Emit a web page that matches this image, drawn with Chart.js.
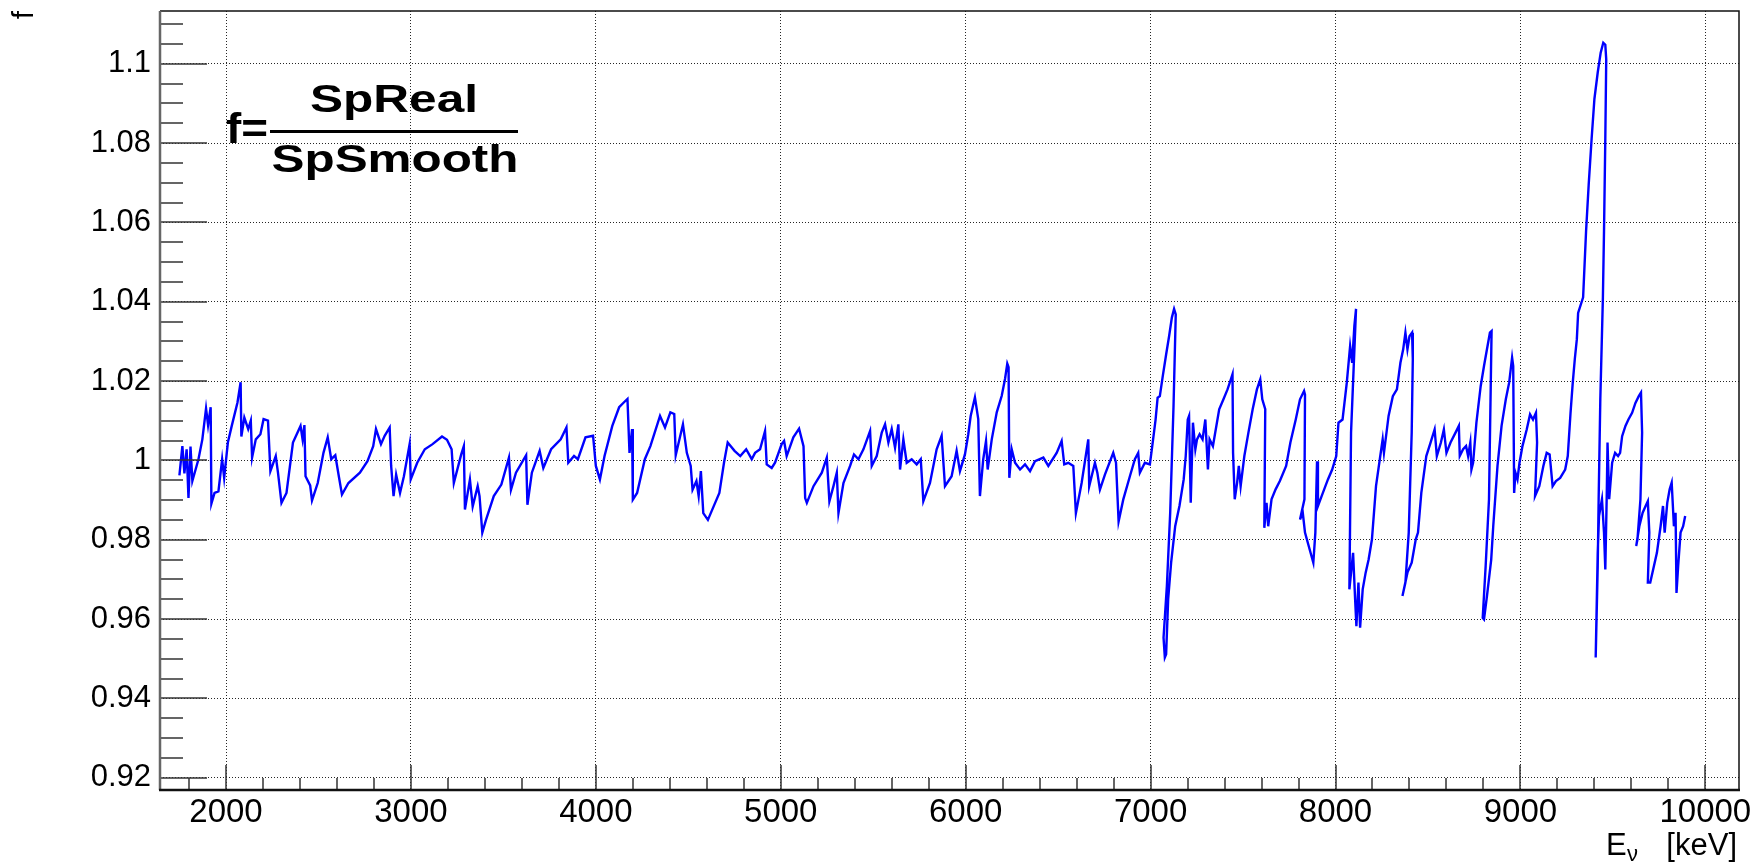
<!DOCTYPE html>
<html>
<head>
<meta charset="utf-8">
<title>f = SpReal / SpSmooth</title>
<script src="https://cdn.jsdelivr.net/npm/chart.js@4.4.0/dist/chart.umd.min.js"></script>
<style>
  html, body { margin: 0; padding: 0; background: #fff; }
  #wrap { width: 1756px; height: 862px; }
</style>
</head>
<body>
<div id="wrap"><canvas id="ratioChart" width="1756" height="862"></canvas></div>
<script>
// neutrino energy (keV), in drawing order (the curve folds back on itself at the big drops)
const energyKeV = [
  1748, 1764, 1775, 1787, 1797, 1808, 1818, 1851, 1872, 1892, 1903, 1917, 1921, 1938, 1959, 1979, 1990,
  2010, 2031, 2062, 2079, 2083, 2099, 2120, 2134, 2141, 2161, 2186, 2203, 2227, 2240, 2269, 2281, 2300,
  2327, 2362, 2403, 2414, 2424, 2430, 2455, 2465, 2496, 2527, 2550, 2569, 2591, 2610, 2627, 2662, 2724,
  2765, 2796, 2811, 2838, 2858, 2885, 2893, 2906, 2920, 2941, 2962, 2993, 2999, 3034, 3075, 3117, 3168,
  3195, 3220, 3232, 3272, 3286, 3292, 3319, 3334, 3361, 3371, 3386, 3406, 3448, 3489, 3530, 3541, 3568,
  3623, 3630, 3654, 3696, 3716, 3758, 3810, 3841, 3851, 3882, 3903, 3944, 3985, 4000, 4022, 4047, 4089,
  4126, 4151, 4171, 4182, 4196, 4200, 4223, 4265, 4295, 4347, 4374, 4403, 4424, 4432, 4471, 4492, 4513,
  4523, 4544, 4556, 4568, 4581, 4606, 4637, 4668, 4693, 4713, 4750, 4781, 4813,
  4843, 4861, 4888, 4915, 4924, 4951, 4969, 5005, 5018, 5032, 5068, 5099, 5123, 5132, 5141, 5177, 5222,
  5249, 5263, 5285, 5303, 5312, 5339, 5375, 5396, 5420, 5447, 5483, 5492, 5519, 5546, 5564, 5582, 5600,
  5618, 5636, 5645, 5663, 5681, 5708, 5735, 5757, 5771, 5807, 5843, 5870, 5888, 5924, 5951, 5969, 5996,
  6014, 6027, 6050, 6068, 6077, 6095, 6110, 6119, 6141, 6168, 6195, 6213, 6225, 6232, 6236, 6249, 6267,
  6294, 6321, 6348, 6375, 6420, 6447, 6492, 6519, 6533, 6555, 6582, 6596, 6627, 6663, 6668, 6699, 6712,
  6726, 6753, 6798, 6813, 6827, 6852, 6888, 6915, 6933, 6942, 6969, 6996,
  7009, 7027, 7038, 7050, 7066, 7084, 7100, 7115, 7127, 7136, 7124, 7106, 7088, 7070, 7077, 7084, 7095,
  7111, 7133, 7156, 7179, 7190, 7201, 7208, 7217, 7229, 7242, 7251, 7265, 7281, 7296, 7310, 7319, 7337,
  7348, 7371, 7394, 7416, 7434, 7443, 7446, 7455, 7468, 7477, 7487, 7507, 7529, 7552, 7575, 7593, 7604,
  7620, 7615, 7627, 7636, 7654, 7676, 7699, 7733, 7756, 7785, 7808, 7830, 7835, 7832, 7808, 7823, 7835,
  7880, 7891, 7900, 7905, 7925, 7959, 7982, 8004, 8016, 8038, 8061, 8079, 8090, 8102, 8111, 8084, 8075,
  8095, 8106, 8113, 8124, 8133, 8147, 8163, 8179, 8197, 8219, 8242, 8255, 8262, 8287, 8310, 8332, 8351,
  8366, 8378, 8389, 8400, 8414, 8418, 8412, 8396, 8378, 8362, 8389, 8412, 8434, 8446, 8464, 8491, 8514,
  8536, 8548, 8570, 8586, 8600, 8622, 8649, 8667, 8672, 8690, 8706, 8717, 8729, 8735, 8744, 8762, 8785,
  8803, 8819, 8835, 8844, 8830, 8812, 8796, 8803, 8819, 8842, 8853, 8876, 8898, 8921, 8939, 8955, 8961,
  8966, 8973, 8984, 8995, 9011, 9034, 9052, 9068, 9084, 9090, 9079, 9102, 9124, 9142, 9158, 9174, 9192,
  9215, 9242, 9256, 9271, 9283, 9294, 9305, 9312, 9339, 9355, 9369, 9385, 9400, 9418, 9434, 9448, 9459,
  9464, 9459, 9452, 9446, 9432, 9423, 9418, 9412, 9407, 9418, 9425, 9441, 9452, 9459, 9467, 9471, 9480,
  9496, 9512, 9528, 9539, 9550, 9568, 9584, 9604, 9622, 9640, 9652, 9658, 9649, 9633, 9626, 9643, 9661,
  9677, 9689, 9697, 9689, 9702, 9722, 9738, 9758, 9771, 9780, 9794, 9807, 9818, 9830, 9839, 9844, 9853,
  9866, 9880, 9891
];

// f = SpReal / SpSmooth, one value per energy above
const ratioF = [
  0.9962, 1.0036, 0.9967, 1.0028, 0.9905, 1.0035, 0.9948, 1.0003, 1.0053, 1.0131, 1.0089, 1.0134, 0.9891, 0.9918, 0.9922, 1.0003, 0.9956,
  1.0045, 1.0087, 1.0146, 1.0197, 1.0060, 1.0108, 1.0079, 1.0100, 1.0007, 1.0053, 1.0066, 1.0104, 1.0100, 0.9973, 1.0011, 0.9969, 0.9893,
  0.9918, 1.0045, 1.0087, 1.0053, 1.0089, 0.9960, 0.9937, 0.9899, 0.9943, 1.0019, 1.0058, 1.0003, 1.0013, 0.9960, 0.9914, 0.9943, 0.9969,
  0.9998, 1.0036, 1.0079, 1.0041, 1.0062, 1.0083, 0.9986, 0.9910, 0.9964, 0.9918, 0.9960, 1.0041, 0.9952, 0.9994, 1.0028, 1.0041, 1.0060,
  1.0052, 1.0028, 0.9943, 1.0015, 1.0036, 0.9876, 0.9952, 0.9884, 0.9935, 0.9910, 0.9818, 0.9850, 0.9910, 0.9939, 1.0007, 0.9926, 0.9969,
  1.0013, 0.9888, 0.9969, 1.0024, 0.9981, 1.0028, 1.0053, 1.0083, 0.9994, 1.0011, 1.0003, 1.0058, 1.0062, 0.9986, 0.9952, 1.0011, 1.0087,
  1.0134, 1.0146, 1.0155, 1.0019, 1.0079, 0.9901, 0.9918, 1.0003, 1.0036, 1.0112, 1.0083, 1.0121, 1.0117, 1.0013, 1.0091, 1.0019, 0.9986,
  0.9926, 0.9948, 0.9910, 0.9973, 0.9867, 0.9850, 0.9884, 0.9918, 0.9994, 1.0045, 1.0024, 1.0011, 1.0028,
  1.0003, 1.0019, 1.0028, 1.0074, 0.9990, 0.9981, 0.9994, 1.0041, 1.0049, 1.0011, 1.0058, 1.0080, 1.0036, 0.9905, 0.9893, 0.9935, 0.9969,
  1.0007, 0.9897, 0.9935, 0.9969, 0.9867, 0.9943, 0.9986, 1.0015, 1.0003, 1.0028, 1.0074, 0.9986, 1.0011, 1.0070, 1.0091, 1.0045, 1.0079,
  1.0032, 1.0091, 0.9977, 1.0053, 0.9994, 1.0003, 0.9990, 1.0003, 0.9897, 0.9943, 1.0028, 1.0062, 0.9935, 0.9960, 1.0024, 0.9973, 1.0015,
  1.0066, 1.0112, 1.0159, 1.0104, 0.9910, 1.0003, 1.0049, 0.9977, 1.0053, 1.0121, 1.0163, 1.0206, 1.0244, 1.0235, 0.9956, 1.0028, 0.9994,
  0.9977, 0.9990, 0.9973, 0.9998, 1.0007, 0.9986, 1.0019, 1.0049, 0.9990, 0.9994, 0.9986, 0.9867, 0.9943, 1.0053, 0.9935, 0.9994, 0.9969,
  0.9926, 0.9964, 1.0019, 0.9994, 0.9846, 0.9901, 0.9960, 1.0003, 1.0019, 0.9969, 0.9994, 0.9990,
  1.0036, 1.0103, 1.0158, 1.0162, 1.0213, 1.0267, 1.0313, 1.0360, 1.0382, 1.0368, 1.0137, 0.9868, 0.9683, 0.9553, 0.9503, 0.9511, 0.9650,
  0.9742, 0.9834, 0.9885, 0.9952, 1.0011, 1.0103, 1.0112, 0.9893, 1.0095, 1.0028, 1.0053, 1.0066, 1.0053, 1.0103, 0.9977, 1.0053, 1.0036,
  1.0066, 1.0129, 1.0154, 1.0179, 1.0204, 1.0217, 1.0019, 0.9902, 0.9944, 0.9986, 0.9935, 1.0011, 1.0070, 1.0129, 1.0179, 1.0204, 1.0154,
  1.0129, 0.9830, 0.9893, 0.9834, 0.9902, 0.9927, 0.9948, 0.9986, 1.0045, 1.0103, 1.0154, 1.0175, 1.0166, 0.9902, 0.9851, 0.9868, 0.9818,
  0.9742, 0.9818, 0.9998, 0.9885, 0.9910, 0.9952, 0.9977, 1.0011, 1.0095, 1.0103, 1.0196, 1.0288, 1.0246, 1.0339, 1.0382, 1.0070, 0.9675,
  0.9767, 0.9650, 0.9582, 0.9692, 0.9578, 0.9675, 0.9717, 0.9750, 0.9801, 0.9935, 1.0011, 1.0053, 1.0019, 1.0112, 1.0162, 1.0179, 1.0246,
  1.0280, 1.0322, 1.0280, 1.0313, 1.0322, 1.0255, 1.0070, 0.9818, 0.9692, 0.9658, 0.9717, 0.9742, 0.9801, 0.9818, 0.9918, 1.0011, 1.0045,
  1.0078, 1.0011, 1.0045, 1.0078, 1.0019, 1.0045, 1.0070, 1.0087, 1.0011, 1.0028, 1.0036, 1.0011, 1.0045, 0.9977, 0.9994, 1.0095, 1.0187,
  1.0238, 1.0280, 1.0322, 1.0326, 0.9902, 0.9734, 0.9603, 0.9599, 0.9658, 0.9750, 0.9834, 0.9986, 1.0087, 1.0154, 1.0196, 1.0259, 1.0238,
  0.9918, 0.9969, 0.9952, 0.9994, 1.0036, 1.0078, 1.0116, 1.0103, 1.0120, 1.0045, 0.9910, 0.9935, 0.9986, 1.0019, 1.0015, 0.9935, 0.9948,
  0.9956, 0.9977, 1.0011, 1.0120, 1.0196, 1.0255, 1.0305, 1.0372, 1.0411, 1.0578, 1.0694, 1.0811, 1.0911, 1.0978, 1.1028, 1.1053, 1.1048,
  1.1011, 1.0811, 1.0578, 1.0411, 1.0154, 0.9902, 0.9734, 0.9608, 0.9503, 0.9767, 0.9860, 0.9902, 0.9818, 0.9725, 0.9918, 1.0045, 0.9902,
  0.9994, 1.0019, 1.0011, 1.0019, 1.0061, 1.0087, 1.0103, 1.0120, 1.0145, 1.0162, 1.0171, 1.0070, 0.9902, 0.9801, 0.9784, 0.9834, 0.9868,
  0.9885, 0.9897, 0.9818, 0.9692, 0.9692, 0.9734, 0.9767, 0.9834, 0.9885, 0.9818, 0.9893, 0.9927, 0.9944, 0.9834, 0.9868, 0.9666, 0.9734,
  0.9818, 0.9834, 0.9860
];

const xTickValues = [2000, 3000, 4000, 5000, 6000, 7000, 8000, 9000, 10000];
const yTickValues = [0.92, 0.94, 0.96, 0.98, 1, 1.02, 1.04, 1.06, 1.08, 1.1];
const yTickLabels = ['0.92', '0.94', '0.96', '0.98', '1', '1.02', '1.04', '1.06', '1.08', '1.1'];

const X_MIN = 1643, X_MAX = 10182;
const Y_MIN = 0.9169, Y_MAX = 1.1133;
const X_MINOR_STEP = 200, Y_MINOR_STEP = 0.005;

const FONT = "'Liberation Sans', Arial, Helvetica, sans-serif";

const points = energyKeV.map((e, i) => ({ x: e, y: ratioF[i] }));

// squeeze/stretch a text horizontally so it fills a given width
function drawFitted(ctx, text, cx, baseline, width) {
    const w = ctx.measureText(text).width;
    ctx.save();
    ctx.translate(cx, baseline);
    ctx.scale(width / w, 1);
    ctx.textAlign = 'center';
    ctx.fillText(text, 0, 0);
    ctx.restore();
}

// ROOT-like frame: inner ticks (major + minor), frame lines, titles and the formula
const rootFrame = {
    id: 'rootFrame',
    afterDraw(chart) {
        const { ctx, chartArea: a, scales } = chart;
        const x = scales.x, y = scales.y;
        ctx.save();

        ctx.strokeStyle = '#333';
        ctx.lineWidth = 1.5;
        ctx.beginPath();
        for (let k = 0; ; k++) {
            const v = 1800 + k * X_MINOR_STEP;
            if (v > x.max) break;
            const px = Math.round(x.getPixelForValue(v));
            const len = xTickValues.includes(v) ? 25 : 12;
            ctx.moveTo(px, a.bottom);
            ctx.lineTo(px, a.bottom - len);
        }
        for (let k = 0; ; k++) {
            const v = 0.92 + k * Y_MINOR_STEP;
            if (v > y.max) break;
            const py = Math.round(y.getPixelForValue(v));
            const len = k % 4 === 0 ? 47 : 23;
            ctx.moveTo(a.left, py);
            ctx.lineTo(a.left + len, py);
        }
        ctx.stroke();

        // frame
        ctx.lineWidth = 1.5;
        ctx.strokeStyle = '#111';
        ctx.beginPath();
        ctx.moveTo(a.left, a.top);
        ctx.lineTo(a.right, a.top);
        ctx.lineTo(a.right, a.bottom);
        ctx.stroke();
        ctx.lineWidth = 2.5;
        ctx.strokeStyle = '#666';
        ctx.beginPath();
        ctx.moveTo(a.left, a.top);
        ctx.lineTo(a.left, a.bottom);
        ctx.stroke();
        ctx.strokeStyle = '#111';
        ctx.beginPath();
        ctx.moveTo(a.left - 1, a.bottom);
        ctx.lineTo(a.right + 1, a.bottom);
        ctx.stroke();

        ctx.fillStyle = '#000';
        ctx.textBaseline = 'alphabetic';

        // x axis title: E_nu [keV], right aligned at the frame edge
        ctx.font = '31px ' + FONT;
        ctx.textAlign = 'right';
        ctx.fillText('[keV]', a.right - 2, 855);
        ctx.textAlign = 'left';
        ctx.fillText('E', 1606, 855);
        ctx.font = '22px ' + FONT;
        ctx.fillText('\u03bd', 1627, 861);

        // y axis title, rotated, at the top end
        ctx.save();
        ctx.translate(33, 11);
        ctx.rotate(-Math.PI / 2);
        ctx.font = '30px ' + FONT;
        ctx.textAlign = 'right';
        ctx.fillText('f', 0, 0);
        ctx.restore();

        // formula  f = SpReal / SpSmooth
        ctx.font = 'bold 42px ' + FONT;
        drawFitted(ctx, 'f=', 247, 143, 42);
        ctx.font = 'bold 39px ' + FONT;
        drawFitted(ctx, 'SpReal', 394, 112, 168);
        drawFitted(ctx, 'SpSmooth', 395, 172, 247);
        ctx.fillRect(270, 130, 248, 3);

        ctx.restore();
    }
};

const ctx = document.getElementById('ratioChart').getContext('2d');

new Chart(ctx, {
    type: 'scatter',
    data: {
        datasets: [{
            data: points,
            showLine: true,
            borderColor: '#0000ff',
            borderWidth: 2.4,
            pointRadius: 0,
            tension: 0,
            fill: false
        }]
    },
    options: {
        responsive: false,
        animation: false,
        layout: { padding: { left: 0, right: 17, top: 11, bottom: 0 } },
        plugins: {
            legend: { display: false },
            tooltip: { enabled: false }
        },
        scales: {
            x: {
                type: 'linear',
                min: X_MIN,
                max: X_MAX,
                afterBuildTicks: s => { s.ticks = xTickValues.map(v => ({ value: v })); },
                afterFit: s => { s.height = 72; s.paddingLeft = 0; s.paddingRight = 0; },
                ticks: {
                    color: '#000',
                    padding: 3,
                    maxRotation: 0,
                    autoSkip: false,
                    font: { family: FONT, size: 33 },
                    callback: v => String(v)
                },
                grid: { color: 'rgba(0,0,0,0.85)', lineWidth: 1, drawTicks: false },
                border: { display: false, dash: [1, 2] }
            },
            y: {
                type: 'linear',
                min: Y_MIN,
                max: Y_MAX,
                afterBuildTicks: s => { s.ticks = yTickValues.map(v => ({ value: v })); },
                afterFit: s => { s.width = 160; s.paddingTop = 0; s.paddingBottom = 0; },
                ticks: {
                    color: '#000',
                    padding: 9,
                    autoSkip: false,
                    font: { family: FONT, size: 31 },
                    callback: (v, i) => yTickLabels[i]
                },
                grid: { color: 'rgba(0,0,0,0.85)', lineWidth: 1, drawTicks: false },
                border: { display: false, dash: [1, 2] }
            }
        }
    },
    plugins: [rootFrame]
});
</script>
</body>
</html>
